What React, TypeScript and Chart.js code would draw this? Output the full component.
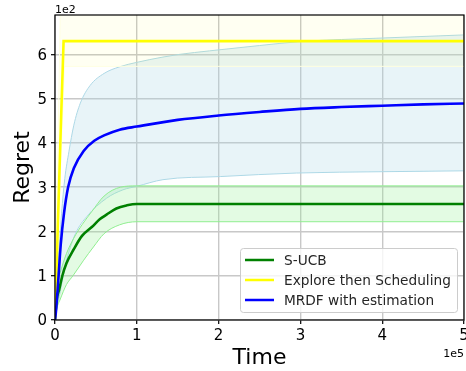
import React, { useEffect, useRef } from "react";
import { Chart, registerables } from "chart.js";

Chart.register(...registerables);

// ---- data (time steps, regret values) ----
const T_SUCB = [0, 2000, 5000, 9000, 14000, 23000, 33000, 45000, 55000, 63000, 75000, 88000, 100000, 500000];
const SUCB_MEAN = [0, 45, 68, 100, 128, 160, 190, 210, 228, 238, 252, 259, 262, 262];
const T_SUCB_UP = [0, 2000, 6000, 14000, 23000, 33000, 45000, 60000, 80000, 100000, 500000];
const SUCB_UP = [0, 75, 105, 150, 185, 215, 245, 280, 300, 303, 303];
const T_SUCB_LO = [0, 2000, 6000, 14000, 22000, 35000, 47000, 60000, 79000, 100000, 500000];
const SUCB_LO = [0, 25, 45, 80, 100, 135, 165, 195, 215, 222, 222];

const T_EXP = [0, 7000, 10500, 500000];
const EXP_MEAN = [0, 430, 630, 630];
const T_EXP_UP = [0, 4000, 6500, 500000];
const EXP_UP = [0, 430, 700, 700];
const T_EXP_LO = [0, 11500, 500000];
const EXP_LO = [0, 573, 573];

const T_MRDF = [0, 1000, 4000, 7000, 11000, 16000, 23000, 35000, 48000, 60000, 79000, 100000, 150000, 200000, 250000, 300000, 350000, 400000, 450000, 500000];
const MRDF_MEAN = [0, 16, 90, 170, 241, 300, 343, 382, 405, 417, 430, 437, 452, 462, 470, 477, 481, 484, 487, 489];
const T_MRDF_UP = [0, 4000, 8000, 12000, 17000, 23000, 31000, 43000, 60000, 79000, 100000, 132000, 152000, 189000, 250000, 300000, 400000, 500000];
const MRDF_UP = [0, 130, 240, 320, 380, 440, 490, 530, 557, 572, 582, 594, 600, 608, 620, 629, 637, 644];
const T_MRDF_LO = [0, 7000, 15000, 25000, 39000, 63000, 83000, 100000, 132000, 202000, 295000, 400000, 500000];
const MRDF_LO = [0, 70, 140, 195, 234, 275, 294, 302, 317, 324, 332, 335, 337];

const X_TICKS = [0, 100000, 200000, 300000, 400000, 500000];
const Y_TICKS = [0, 100, 200, 300, 400, 500, 600];

const LEGEND_ITEMS = [
  { label: "S-UCB", color: "#008000" },
  { label: "Explore then Scheduling", color: "#ffff00" },
  { label: "MRDF with estimation", color: "#0000ff" },
];

const FONT = "'DejaVu Sans', sans-serif";

const pts = (xs: number[], ys: number[]) => xs.map((x, i) => ({ x, y: ys[i] }));

const framePlugin = {
  id: "frame",
  afterDraw(chart: any) {
    const { ctx, chartArea } = chart;
    const { left, right, top, bottom } = chartArea;
    ctx.save();
    // spines
    ctx.strokeStyle = "#000";
    ctx.lineWidth = 1.2;
    ctx.strokeRect(left, top, right - left, bottom - top);
    // offset texts
    ctx.fillStyle = "#000";
    ctx.font = `11px ${FONT}`;
    ctx.textBaseline = "alphabetic";
    ctx.textAlign = "left";
    ctx.fillText("1e2", left, top - 2.5);
    ctx.textAlign = "right";
    ctx.fillText("1e5", right, 356.5);
    // legend
    const bx = 240.5, by = 248.5, bw = 217, bh = 64, r = 3;
    ctx.beginPath();
    ctx.moveTo(bx + r, by);
    ctx.lineTo(bx + bw - r, by);
    ctx.quadraticCurveTo(bx + bw, by, bx + bw, by + r);
    ctx.lineTo(bx + bw, by + bh - r);
    ctx.quadraticCurveTo(bx + bw, by + bh, bx + bw - r, by + bh);
    ctx.lineTo(bx + r, by + bh);
    ctx.quadraticCurveTo(bx, by + bh, bx, by + bh - r);
    ctx.lineTo(bx, by + r);
    ctx.quadraticCurveTo(bx, by, bx + r, by);
    ctx.closePath();
    ctx.fillStyle = "rgba(255,255,255,0.8)";
    ctx.fill();
    ctx.strokeStyle = "#cccccc";
    ctx.lineWidth = 1;
    ctx.stroke();
    ctx.font = `13.7px ${FONT}`;
    ctx.textAlign = "left";
    ctx.textBaseline = "middle";
    LEGEND_ITEMS.forEach((it, i) => {
      const y = 260 + i * 20;
      ctx.strokeStyle = it.color;
      ctx.lineWidth = 2.5;
      ctx.beginPath();
      ctx.moveTo(245, y);
      ctx.lineTo(274, y);
      ctx.stroke();
      ctx.fillStyle = "#262626";
      ctx.fillText(it.label, 284, y + 1);
    });
    ctx.restore();
  },
};

export default function App() {
  const ref = useRef<HTMLCanvasElement>(null);
  useEffect(() => {
    if (!ref.current) return;
    const meanLine = (data: any, color: string) => ({
      data,
      borderColor: color,
      backgroundColor: color,
      borderWidth: 2.6,
      pointRadius: 0,
      fill: false,
      order: 0,
      cubicInterpolationMode: "monotone",
    });
    const edge = (data: any, color: string, fill: any, bg: string) => ({
      data,
      borderColor: color,
      backgroundColor: bg,
      borderWidth: 1,
      pointRadius: 0,
      fill,
      order: 1,
      cubicInterpolationMode: "monotone",
    });
    const chart = new Chart(ref.current, {
      type: "line",
      data: {
        datasets: [
          meanLine(pts(T_MRDF, MRDF_MEAN), "#0000ff") as any,
          { ...meanLine(pts(T_EXP, EXP_MEAN), "#ffff00"), cubicInterpolationMode: "default", tension: 0 } as any,
          meanLine(pts(T_SUCB, SUCB_MEAN), "#008000") as any,
          edge(pts(T_SUCB_UP, SUCB_UP), "#90ee90", false, "transparent") as any,
          edge(pts(T_SUCB_LO, SUCB_LO), "#90ee90", { target: 3 }, "rgba(144,238,144,0.25)") as any,
          { ...edge(pts(T_EXP_UP, EXP_UP), "#ffffe0", false, "transparent"), cubicInterpolationMode: "default", tension: 0 } as any,
          { ...edge(pts(T_EXP_LO, EXP_LO), "#ffffe0", { target: 5 }, "rgba(255,255,0,0.05)"), cubicInterpolationMode: "default", tension: 0 } as any,
          edge(pts(T_MRDF_UP, MRDF_UP), "#add8e6", false, "transparent") as any,
          edge(pts(T_MRDF_LO, MRDF_LO), "#add8e6", { target: 7 }, "rgba(173,216,230,0.28)") as any,
        ],
      },
      options: {
        animation: false,
        responsive: false,
        layout: { padding: { top: 15, right: 2, left: 0, bottom: 0 } },
        plugins: { legend: { display: false }, tooltip: { enabled: false } },
        scales: {
          x: {
            type: "linear",
            min: 0,
            max: 500000,
            afterFit: (s: any) => { s.height = 51; s.paddingLeft = 0; s.paddingRight = 0; },
            afterBuildTicks: (s: any) => { s.ticks = X_TICKS.map((v) => ({ value: v })); },
            ticks: {
              color: "#000",
              font: { family: FONT, size: 15 },
              padding: 3,
              maxRotation: 0,
              callback: (v: any) => String(Number(v) / 100000),
            },
            grid: { color: "#c8c8c8", lineWidth: 1.4, tickColor: "#000", tickLength: 4, tickWidth: 1.2 },
            border: { display: false },
            title: { display: true, text: "Time", color: "#000", font: { family: FONT, size: 22 }, padding: { top: 0, bottom: 0 } },
          },
          y: {
            type: "linear",
            min: 0,
            max: 689,
            afterFit: (s: any) => { s.width = 55; s.paddingTop = 0; s.paddingBottom = 0; },
            afterBuildTicks: (s: any) => { s.ticks = Y_TICKS.map((v) => ({ value: v })); },
            ticks: {
              color: "#000",
              font: { family: FONT, size: 15 },
              padding: 4,
              labelOffset: 1.5,
              callback: (v: any) => String(Number(v) / 100),
            },
            grid: { color: "#c8c8c8", lineWidth: 1.4, tickColor: "#000", tickLength: 4, tickWidth: 1.2 },
            border: { display: false },
            title: { display: true, text: "Regret", color: "#000", font: { family: FONT, size: 22 }, padding: { top: 10, bottom: 0 } },
          },
        },
      } as any,
      plugins: [framePlugin],
    });
    return () => chart.destroy();
  }, []);
  return (
    <div style={{ position: "absolute", left: 0, top: 0, width: 466, height: 371, background: "#fff" }}>
      <canvas ref={ref} width={466} height={371} />
    </div>
  );
}
